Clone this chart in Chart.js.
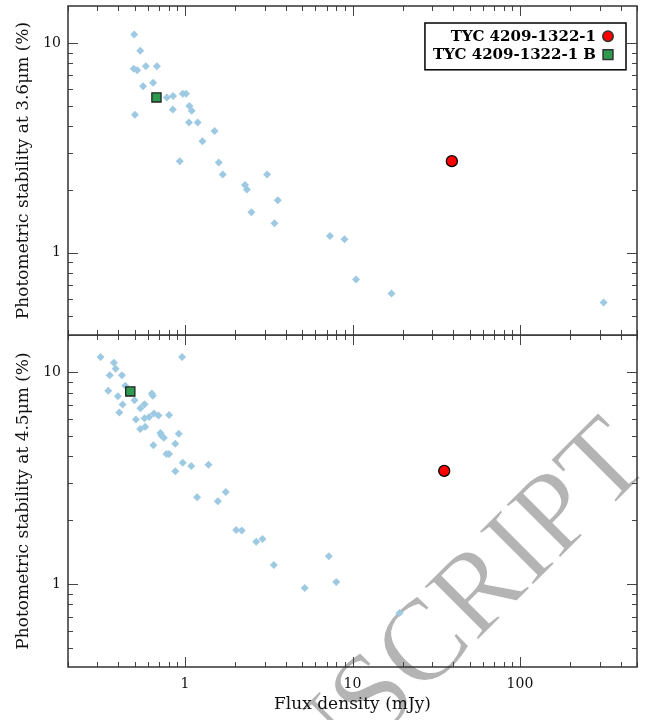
<!DOCTYPE html>
<html>
<head>
<meta charset="utf-8">
<script src="https://cdn.jsdelivr.net/npm/chart.js@4.4.1/dist/chart.umd.min.js"></script>
<style>
  html, body { margin: 0; padding: 0; background: #fff; }
  #wrap { position: relative; width: 650px; height: 720px; overflow: hidden; }
  #topChart { position: absolute; left: 0; top: 0; }
  #bottomChart { position: absolute; left: 0; top: 335px; }
</style>
</head>
<body>
<div id="wrap">
  <canvas id="topChart" width="650" height="336"></canvas>
  <canvas id="bottomChart" width="650" height="385"></canvas>
</div>
<script>
// Field stars, 3.6 micron
const flux36 = [0.497, 0.540, 0.494, 0.518, 0.583, 0.679, 0.562, 0.645, 0.502, 0.778,
  0.848, 0.845, 0.969, 1.014, 1.061, 1.096, 1.056, 1.19, 1.50, 1.27,
  0.930, 1.59, 1.68, 3.09, 2.28, 2.34, 3.58, 2.49, 3.42, 7.33,
  8.96, 10.5, 17.1, 316];
const stab36 = [10.96, 9.19, 7.53, 7.41, 7.75, 7.75, 6.22, 6.46, 4.55, 5.50,
  5.58, 4.81, 5.73, 5.73, 5.00, 4.75, 4.18, 4.18, 3.80, 3.40,
  2.73, 2.69, 2.36, 2.36, 2.10, 2.00, 1.78, 1.56, 1.38, 1.20,
  1.16, 0.744, 0.638, 0.578];

// Field stars, 4.5 micron
const flux45 = [0.313, 0.960, 0.376, 0.385, 0.355, 0.420, 0.440, 0.348, 0.397, 0.499,
  0.424, 0.405, 0.509, 0.540, 0.541, 0.573, 0.578, 0.573, 0.610, 0.652,
  0.694, 0.634, 0.642, 0.803, 0.713, 0.722, 0.747, 0.917, 0.875, 0.647,
  0.774, 0.803, 0.969, 1.09, 1.38, 0.875, 1.75, 1.18, 1.57, 2.02,
  2.18, 2.66, 2.90, 3.39, 5.18, 7.22, 8.00, 19.1];
const stab45 = [11.8, 11.8, 11.1, 10.4, 9.68, 9.68, 8.63, 8.17, 7.71, 7.38,
  7.04, 6.45, 5.99, 5.39, 6.76, 7.06, 5.53, 6.06, 6.15, 6.38,
  6.24, 7.94, 7.74, 6.28, 5.16, 5.03, 4.90, 5.12, 4.59, 4.52,
  4.11, 4.11, 3.74, 3.61, 3.66, 3.41, 2.72, 2.57, 2.46, 1.80,
  1.79, 1.58, 1.63, 1.23, 0.957, 1.35, 1.02, 0.728];

// The two targets: [3.6 micron, 4.5 micron]
const tycFlux = [39.2, 35.3];
const tycStab = [2.73, 3.42];
const tycBFlux = [0.675, 0.471];
const tycBStab = [5.50, 8.12];

const targetName = "TYC 4209-1322-1";
const companionName = "TYC 4209-1322-1 B";
const xLabel = "Flux density (mJy)";
const yLabels = ["Photometric stability at 3.6\u03bcm (%)", "Photometric stability at 4.5\u03bcm (%)"];

const serif = '"DejaVu Serif", "Liberation Serif", serif';

function pts(xs, ys) {
  return xs.map((x, i) => ({ x: x, y: ys[i] }));
}
function isDecade(v) {
  const l = Math.log10(v);
  return Math.abs(l - Math.round(l)) < 1e-6;
}
function decadeLabel(v) {
  return isDecade(v) ? String(v) : "";
}

// inward ticks on all four sides plus the frame
const frameTicks = {
  id: "frameTicks",
  afterDraw(chart) {
    const { ctx, chartArea: a, scales } = chart;
    const xs = scales.x, ys = scales.y;
    const logTicks = (min, max) => {
      const out = [];
      for (let e = Math.floor(Math.log10(min)); e <= Math.ceil(Math.log10(max)); e++) {
        for (let m = 1; m < 10; m++) {
          const v = m * Math.pow(10, e);
          if (v >= min && v <= max) out.push({ v: v, major: m === 1 });
        }
      }
      return out;
    };
    ctx.save();
    ctx.strokeStyle = "#444";
    ctx.lineWidth = 1;
    ctx.beginPath();
    logTicks(xs.min, xs.max).forEach((t) => {
      const px = Math.round(xs.getPixelForValue(t.v)) + 0.5;
      const len = t.major ? 10 : 5;
      ctx.moveTo(px, a.bottom); ctx.lineTo(px, a.bottom - len);
      ctx.moveTo(px, a.top); ctx.lineTo(px, a.top + len);
    });
    logTicks(ys.min, ys.max).forEach((t) => {
      const py = Math.round(ys.getPixelForValue(t.v)) + 0.5;
      const len = t.major ? 10 : 5;
      ctx.moveTo(a.left, py); ctx.lineTo(a.left + len, py);
      ctx.moveTo(a.right, py); ctx.lineTo(a.right - len, py);
    });
    ctx.stroke();
    ctx.lineWidth = 1.5;
    ctx.strokeStyle = "#333";
    ctx.strokeRect(a.left, a.top, a.right - a.left, a.bottom - a.top);
    ctx.restore();
  },
};

// boxed legend, text right-aligned with marker on the right
const boxLegend = {
  id: "boxLegend",
  afterDraw(chart, args, opts) {
    if (!opts.show) return;
    const { ctx, chartArea: a } = chart;
    const items = chart.data.datasets.filter((d) => d.label);
    ctx.save();
    ctx.font = "bold 15px " + serif;
    const tw = Math.max(...items.map((d) => ctx.measureText(d.label).width));
    const rowH = 18.4;
    const w = tw + 38;
    const h = items.length * rowH + 10;
    const right = a.right - 11;
    const top = a.top + 17;
    const left = right - w;
    ctx.fillStyle = "#fff";
    ctx.fillRect(left, top, w, h);
    ctx.strokeStyle = "#000";
    ctx.lineWidth = 1.5;
    ctx.strokeRect(left, top, w, h);
    items.forEach((d, i) => {
      const cy = top + 4 + rowH * (i + 0.5);
      ctx.fillStyle = "#000";
      ctx.textAlign = "right";
      ctx.textBaseline = "middle";
      ctx.fillText(d.label, left + 8 + tw, cy + 1);
      ctx.fillStyle = d.backgroundColor;
      ctx.strokeStyle = "#333";
      Chart.helpers.drawPoint(ctx, {
        pointStyle: d.pointStyle,
        radius: d.pointStyle === "rect" ? 7 : 5.2,
        borderWidth: 0.8,
      }, left + 8 + tw + 12, cy);
    });
    ctx.restore();
  },
};

// grey watermark under everything; a thin white outline slims the glyphs a little
const watermark = {
  id: "watermark",
  beforeDraw(chart, args, opts) {
    if (!opts.text) return;
    const ctx = chart.ctx;
    ctx.save();
    ctx.translate(opts.x, opts.y);
    ctx.rotate(-opts.angle * Math.PI / 180);
    ctx.font = opts.size + 'px "Liberation Serif", serif';
    ctx.textAlign = "right";
    ctx.textBaseline = "alphabetic";
    ctx.fillStyle = "#b4b4b4";
    ctx.fillText(opts.text, 0, 0);
    ctx.strokeStyle = "#fff";
    ctx.lineWidth = 1.2;
    ctx.lineJoin = "round";
    ctx.strokeText(opts.text, 0, 0);
    ctx.restore();
  },
};

function makeChart(id, panel) {
  const isBottom = panel === 1;
  const field = isBottom ? pts(flux45, stab45) : pts(flux36, stab36);
  return new Chart(document.getElementById(id), {
    type: "scatter",
    data: {
      datasets: [
        {
          label: targetName,
          data: [{ x: tycFlux[panel], y: tycStab[panel] }],
          pointStyle: "circle",
          backgroundColor: "#ff0000",
          borderColor: "#000",
          borderWidth: 1.3,
          pointRadius: 5.5,
        },
        {
          label: companionName,
          data: [{ x: tycBFlux[panel], y: tycBStab[panel] }],
          pointStyle: "rect",
          backgroundColor: "#2e9a50",
          borderColor: "#222",
          borderWidth: 1.3,
          pointRadius: 6.5,
        },
        {
          label: "",
          data: field,
          pointStyle: "rectRot",
          backgroundColor: "#9dcae2",
          borderWidth: 0,
          pointRadius: 4,
        },
      ],
    },
    options: {
      responsive: false,
      animation: false,
      events: [],
      layout: {
        autoPadding: false,
        padding: { top: isBottom ? 0 : 6, right: 13, bottom: isBottom ? 0 : 1, left: 0 },
      },
      plugins: {
        legend: { display: false },
        tooltip: { enabled: false },
        boxLegend: { show: !isBottom },
        watermark: isBottom
          ? { text: "MANUSCRIPT", x: 653, y: 130, angle: 45, size: 116 }
          : { text: "" },
      },
      scales: {
        x: {
          type: "logarithmic",
          min: 0.2,
          max: 500,
          display: isBottom,
          afterFit: (s) => {
            s.height = isBottom ? 53 : 0;
            s.paddingLeft = 0;
            s.paddingRight = 0;
          },
          grid: { display: false, drawTicks: false },
          border: { display: false },
          ticks: {
            autoSkip: false,
            maxRotation: 0,
            padding: 9,
            color: "#111",
            font: { family: serif, size: 14 },
            callback: decadeLabel,
          },
          title: {
            display: true,
            text: xLabel,
            color: "#111",
            font: { family: serif, size: 17 },
            padding: { top: 0, bottom: 5 },
          },
        },
        y: {
          type: "logarithmic",
          min: 0.405,
          max: 15,
          afterFit: (s) => {
            s.width = 68;
            s.paddingTop = 0;
            s.paddingBottom = 0;
          },
          // label gap comes from a hidden tick length so the scale asks for no end padding
          grid: { display: false, drawTicks: true, tickLength: 7 },
          border: { display: false },
          ticks: {
            autoSkip: false,
            padding: 0,
            color: "#111",
            font: { family: serif, size: 14, lineHeight: 0.01 },
            callback: decadeLabel,
          },
          title: {
            display: true,
            text: yLabels[panel],
            color: "#111",
            font: { family: serif, size: 17 },
            padding: { top: 13, bottom: 0 },
          },
        },
      },
    },
    plugins: [watermark, frameTicks, boxLegend],
  });
}

makeChart("topChart", 0);
makeChart("bottomChart", 1);
</script>
</body>
</html>
